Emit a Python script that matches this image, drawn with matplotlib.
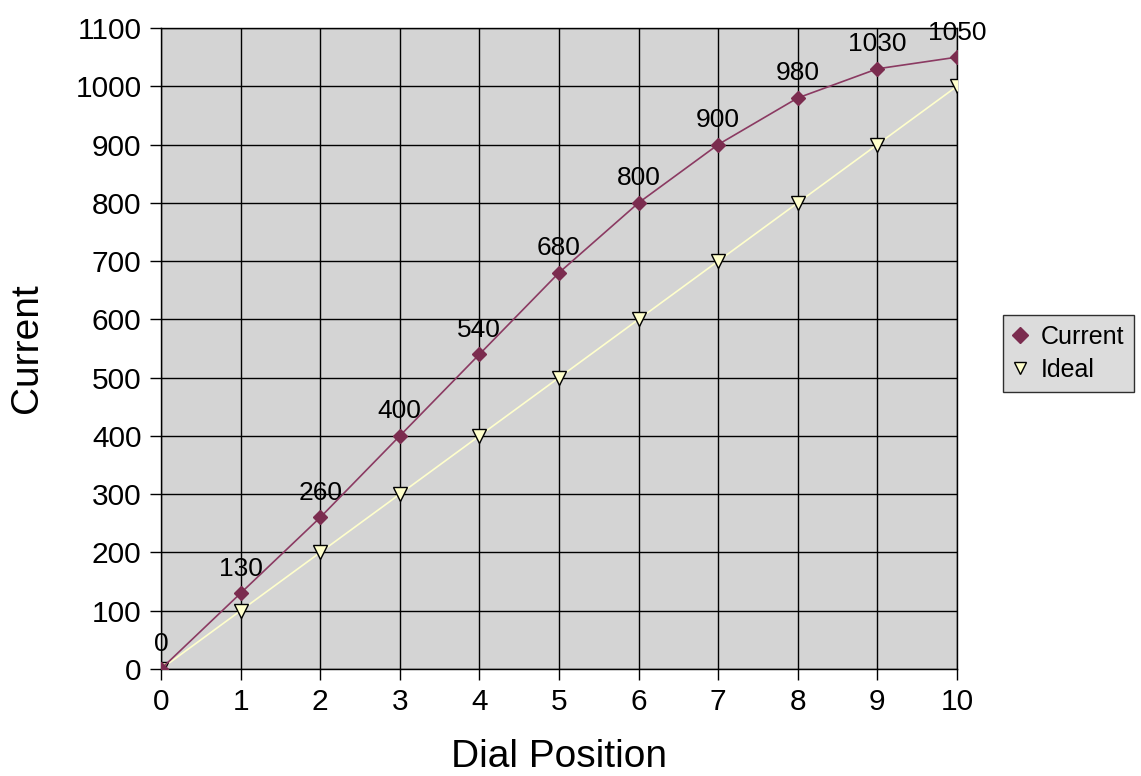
import matplotlib
matplotlib.use('Agg')
from matplotlib import pyplot as plt
import numpy as np

plt.rcParams['font.family'] = ['Liberation Sans', 'DejaVu Sans']

dial = [0, 1, 2, 3, 4, 5, 6, 7, 8, 9, 10]
current = [0, 130, 260, 400, 540, 680, 800, 900, 980, 1030, 1050]
ideal = [0, 100, 200, 300, 400, 500, 600, 700, 800, 900, 1000]

fig = plt.figure(figsize=(11.41, 7.76), dpi=100)
ax = fig.add_axes([0.1411, 0.1379, 0.6976, 0.826])
ax.set_facecolor('#D4D4D4')

ax.plot(dial, ideal, color='#FFFFCC', lw=1.2, marker='v', ms=10,
        mfc='#FFFFCC', mec='black', mew=1, label='Ideal', zorder=3)
ax.plot(dial, current, color='#8B3A62', lw=1.2, marker='D', ms=7,
        mfc='#7B2C4F', mec='#7B2C4F', label='Current', zorder=4)

for x, y in zip(dial, current):
    ax.annotate(str(y), (x, y), xytext=(0, 9), textcoords='offset points',
                ha='center', va='bottom', fontsize=19)

ax.set_xlim(0, 10)
ax.set_ylim(0, 1100)
ax.set_xticks(range(0, 11))
ax.set_yticks(range(0, 1101, 100))
ax.grid(True, color='black', lw=1)
ax.set_axisbelow(True)
ax.tick_params(labelsize=21.5, length=8, width=1, direction='out', pad=6)
for s in ax.spines.values():
    s.set_color('black')
    s.set_linewidth(1)

ax.set_xlabel('Dial Position', fontsize=28, labelpad=16)
ax.set_ylabel('Current', fontsize=28, labelpad=22)

handles, labels = ax.get_legend_handles_labels()
leg = fig.legend(handles[::-1], labels[::-1], loc='center left',
                 bbox_to_anchor=(0.879, 0.5445), fontsize=18, frameon=True,
                 fancybox=False, edgecolor='black', facecolor='#D4D4D4',
                 handlelength=0.6, handletextpad=0.5, borderpad=0.4,
                 labelspacing=0.35, borderaxespad=0)
leg.get_frame().set_linewidth(1)
for h in leg.legend_handles:
    h.set_linestyle('None')
    h.set_markersize(8)

fig.savefig('out.png', dpi=100)
